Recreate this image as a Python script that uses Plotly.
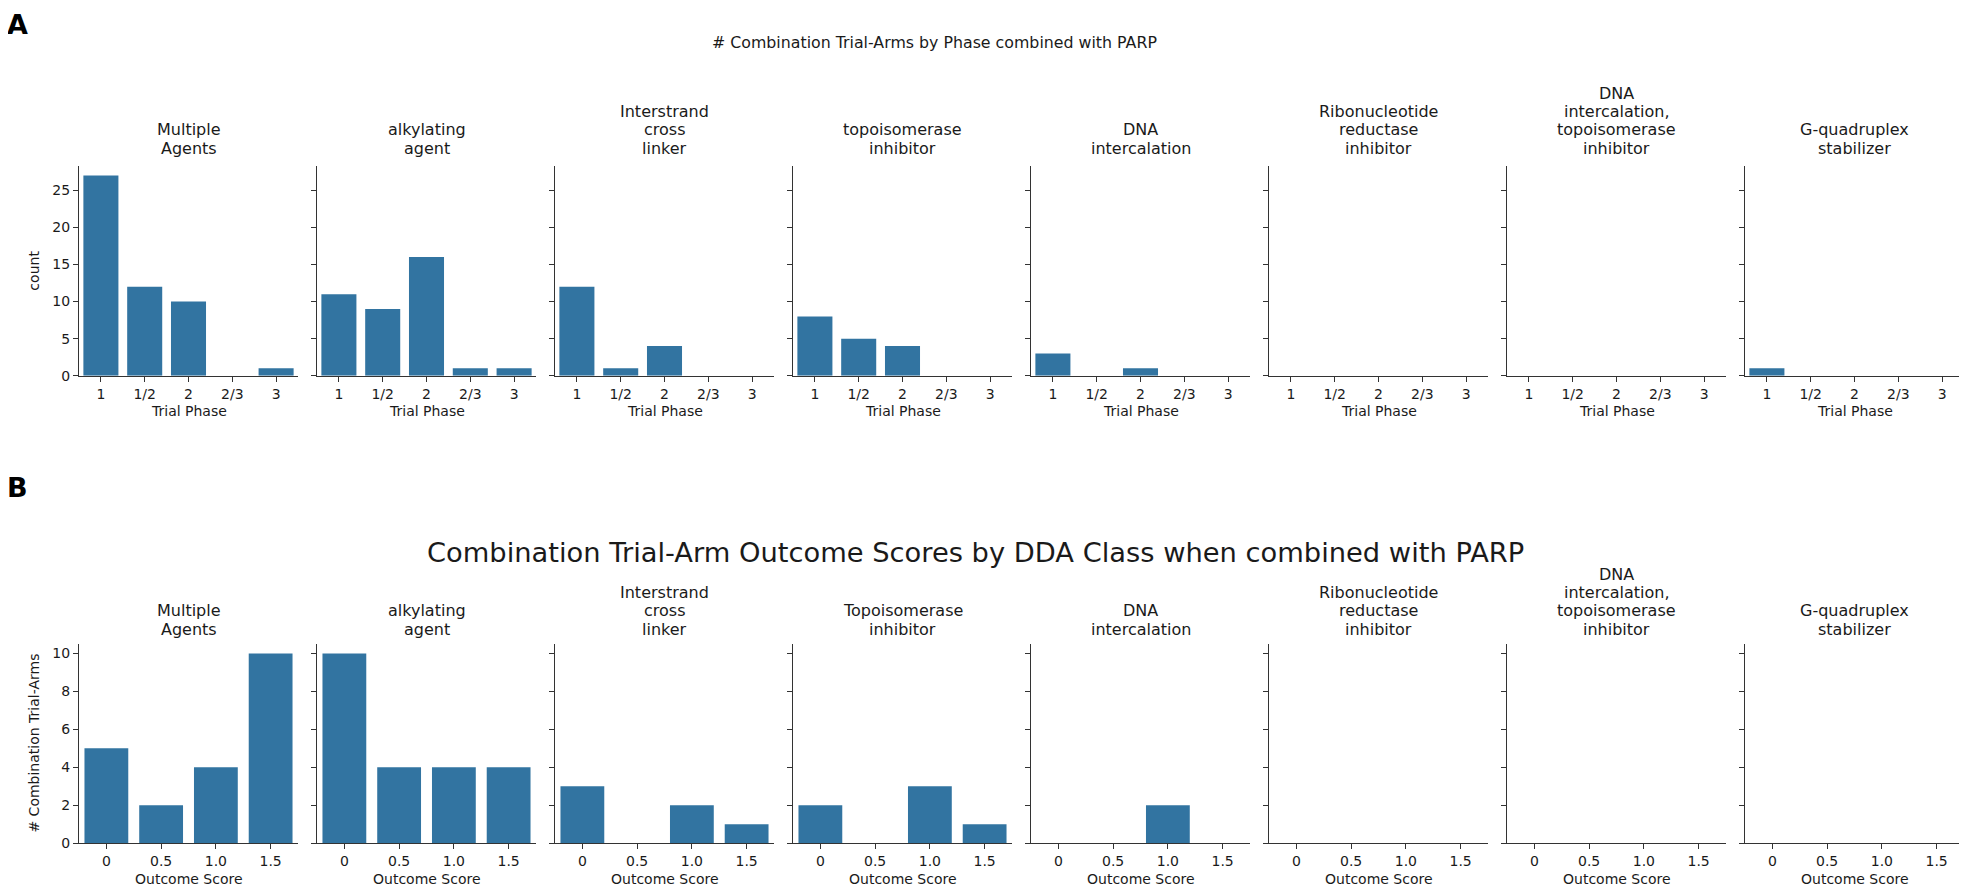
import plotly.graph_objects as go

# ---------------- data ----------------
phases = ["1", "1/2", "2", "2/3", "3"]
scores = ["0", "0.5", "1.0", "1.5"]

top_classes = [
    "Multiple\nAgents",
    "alkylating\nagent",
    "Interstrand\ncross\nlinker",
    "topoisomerase\ninhibitor",
    "DNA\nintercalation",
    "Ribonucleotide\nreductase\ninhibitor",
    "DNA\nintercalation,\ntopoisomerase\ninhibitor",
    "G-quadruplex\nstabilizer",
]
bottom_classes = [
    "Multiple\nAgents",
    "alkylating\nagent",
    "Interstrand\ncross\nlinker",
    "Topoisomerase\ninhibitor",
    "DNA\nintercalation",
    "Ribonucleotide\nreductase\ninhibitor",
    "DNA\nintercalation,\ntopoisomerase\ninhibitor",
    "G-quadruplex\nstabilizer",
]

# counts by trial phase (panel A)
phase_multiple = [27, 12, 10, 0, 1]
phase_alkylating = [11, 9, 16, 1, 1]
phase_interstrand = [12, 1, 4, 0, 0]
phase_topo = [8, 5, 4, 0, 0]
phase_dna_intercal = [3, 0, 1, 0, 0]
phase_ribonuc = [0, 0, 0, 0, 0]
phase_dna_topo = [0, 0, 0, 0, 0]
phase_gquad = [1, 0, 0, 0, 0]

# counts by outcome score (panel B)
score_multiple = [5, 2, 4, 10]
score_alkylating = [10, 4, 4, 4]
score_interstrand = [3, 0, 2, 1]
score_topo = [2, 0, 3, 1]
score_dna_intercal = [0, 0, 2, 0]
score_ribonuc = [0, 0, 0, 0]
score_dna_topo = [0, 0, 0, 0]
score_gquad = [0, 0, 0, 0]

top_values = [phase_multiple, phase_alkylating, phase_interstrand, phase_topo,
              phase_dna_intercal, phase_ribonuc, phase_dna_topo, phase_gquad]
bottom_values = [score_multiple, score_alkylating, score_interstrand, score_topo,
                 score_dna_intercal, score_ribonuc, score_dna_topo, score_gquad]

# ---------------- layout helpers ----------------
W, H = 1967, 895
BAR = "#3274a1"
AX = "#333333"
TXT = "#1a1a1a"
FONT = "DejaVu Sans"


def xp(px):
    return px / W


def yp(py):
    return 1 - py / H


P_LEFT0 = 71
P_STEP = 238
P_W = 219
TOP_Y = (159, 371)
BOT_Y = (641.7, 842.7)

fig = go.Figure()
annotations = []
layout = {}

rows = [
    (top_values, top_classes, phases, TOP_Y, 28.35, [0, 5, 10, 15, 20, 25], "Trial Phase", "count", 0, 17.5),
    (bottom_values, bottom_classes, scores, BOT_Y, 10.5, [0, 2, 4, 6, 8, 10], "Outcome Score",
     "# Combination Trial-Arms", 8, 15),
]

for values_list, classes, cats, (ytop, ybot), ymax, yticks, xlab, ylab, offset, tgap in rows:
    for i, vals in enumerate(values_list):
        n = offset + i + 1
        xa = "x" if n == 1 else f"x{n}"
        ya = "y" if n == 1 else f"y{n}"
        left = P_LEFT0 + P_STEP * i
        right = left + P_W
        fig.add_trace(go.Bar(x=cats, y=vals, xaxis=xa, yaxis=ya, width=0.8,
                             marker=dict(color=BAR, line=dict(width=0)),
                             showlegend=False))
        xkey = "xaxis" if n == 1 else f"xaxis{n}"
        ykey = "yaxis" if n == 1 else f"yaxis{n}"
        layout[xkey] = dict(
            domain=[xp(left), xp(right)], anchor=ya, type="category",
            categoryorder="array", categoryarray=cats,
            range=[-0.5, len(cats) - 0.5], showline=True, linecolor=AX, linewidth=1.3,
            ticks="outside", ticklen=5, tickwidth=1.1, tickcolor=AX,
            showgrid=False, zeroline=False,
            tickfont=dict(family=FONT, size=14, color=TXT), fixedrange=True,
        )
        layout[ykey] = dict(
            domain=[yp(ybot), yp(ytop)], anchor=xa, range=[0, ymax],
            tickvals=yticks, showticklabels=(i == 0),
            showline=True, linecolor=AX, linewidth=1.3,
            ticks="outside", ticklen=5, tickwidth=1.1, tickcolor=AX,
            showgrid=False, zeroline=False,
            tickfont=dict(family=FONT, size=14, color=TXT), fixedrange=True,
        )
        # panel title, one annotation per line (bottom line closest to axes)
        lines = classes[i].split("\n")
        cx = (left + right) / 2
        for k, line in enumerate(reversed(lines)):
            cy = (ytop - tgap) - 18.5 * k
            annotations.append(dict(
                text=line, x=xp(cx), y=yp(cy), xref="paper", yref="paper",
                xanchor="center", yanchor="middle", showarrow=False,
                font=dict(family=FONT, size=16, color=TXT)))
        # x axis label
        annotations.append(dict(
            text=xlab, x=xp(cx), y=yp(ybot + 36), xref="paper", yref="paper",
            xanchor="center", yanchor="middle", showarrow=False,
            font=dict(family=FONT, size=14, color=TXT)))
    # y axis label
    annotations.append(dict(
        text=ylab, x=xp(26), y=yp((ytop + ybot) / 2), xref="paper", yref="paper",
        xanchor="center", yanchor="middle", showarrow=False, textangle=-90,
        font=dict(family=FONT, size=14, color=TXT)))

# figure titles and panel letters
annotations.append(dict(
    text="# Combination Trial-Arms by Phase combined with PARP", x=xp(926), y=yp(35),
    xref="paper", yref="paper", xanchor="center", yanchor="middle", showarrow=False,
    font=dict(family=FONT, size=15.8, color=TXT)))
annotations.append(dict(
    text="Combination Trial-Arm Outcome Scores by DDA Class when combined with PARP",
    x=xp(967), y=yp(549), xref="paper", yref="paper", xanchor="center", yanchor="middle",
    showarrow=False, font=dict(family=FONT, size=27.3, color=TXT)))
annotations.append(dict(
    text="<b>A</b>", x=xp(9), y=yp(17), xref="paper", yref="paper",
    xanchor="center", yanchor="middle", showarrow=False,
    font=dict(family=FONT, size=27, color="black")))
annotations.append(dict(
    text="<b>B</b>", x=xp(9), y=yp(484), xref="paper", yref="paper",
    xanchor="center", yanchor="middle", showarrow=False,
    font=dict(family=FONT, size=27, color="black")))

fig.update_layout(
    width=W, height=H, margin=dict(l=0, r=0, t=0, b=0),
    paper_bgcolor="white", plot_bgcolor="white",
    font=dict(family=FONT, color=TXT), bargap=0.2,
    annotations=annotations, **layout,
)

fig.write_html("out.html")
